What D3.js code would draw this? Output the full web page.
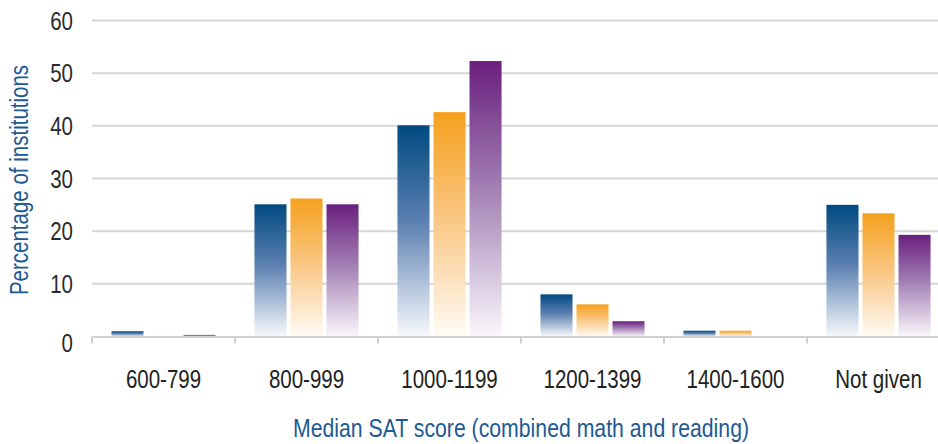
<!DOCTYPE html>
<html>
<head>
<meta charset="utf-8">
<script src="https://cdn.jsdelivr.net/npm/d3@7"></script>
<style>
  body { margin: 0; background: #fff; }
  text { font-family: "Liberation Sans", Arial, sans-serif; }
</style>
</head>
<body>
<div id="chart"></div>
<script>
// categories and series
var categories = ["600-799", "800-999", "1000-1199", "1200-1399", "1400-1600", "Not given"];
var series = ["s1", "s2", "s3"];
var blueValues   = [1.0, 25.1, 40.1, 8.0, 1.1, 25.0];
var orangeValues = [0.1, 26.2, 42.6, 6.1, 1.1, 23.4];
var purpleValues = [0.3, 25.1, 52.3, 2.9, 0.0, 19.3];
var yTicks = [0, 10, 20, 30, 40, 50, 60];

// gradient colors (top, middle, bottom)
var gradients = {
    s1: ["#004a80", "#5a7fb0", "#f7f9fc"],
    s2: ["#f5a11c", "#f9c47e", "#fffbf5"],
    s3: ["#6a1f7e", "#a07db2", "#faf7fb"]
};

// narrow look: squeeze the regular font horizontally
var squeeze = "scale(0.82,1)";
var squeezeTitle = "scale(0.85,1)";

var valuesBySeries = {s1: blueValues, s2: orangeValues, s3: purpleValues};

var data = categories.map(function (c, i) {
    return {
        cat: c,
        vals: series.map(function (s) { return {key: s, value: valuesBySeries[s][i]}; })
    };
});

var svg = d3.select("#chart").append("svg")
    .attr("width", 938)
    .attr("height", 444);

// gradients
var defs = svg.append("defs");
series.forEach(function (s) {
    var g = defs.append("linearGradient")
        .attr("id", "grad_" + s)
        .attr("x1", 0).attr("y1", 0).attr("x2", 0).attr("y2", 1);
    g.append("stop").attr("offset", "0%").attr("stop-color", gradients[s][0]);
    g.append("stop").attr("offset", "45%").attr("stop-color", gradients[s][1]);
    g.append("stop").attr("offset", "100%").attr("stop-color", gradients[s][2]);
});

var x0 = d3.scaleBand()
    .domain(categories)
    .range([92, 950]);

var x1 = d3.scaleBand()
    .domain(series)
    .range([0, x0.bandwidth()])
    .paddingInner(0.11)
    .paddingOuter(0.54);

var y = d3.scaleLinear()
    .domain([0, 60])
    .range([336.5, 20.5]);

// gridlines
svg.append("g")
    .selectAll("line")
    .data(yTicks.filter(function (d) { return d > 0; }))
    .enter()
    .append("line")
    .attr("x1", 92)
    .attr("x2", 938)
    .attr("y1", function (d) { return y(d); })
    .attr("y2", function (d) { return y(d); })
    .attr("stroke", "#d6d6d6")
    .attr("stroke-width", 2);

// y tick labels
svg.append("g")
    .selectAll("g")
    .data(yTicks)
    .enter()
    .append("g")
    .attr("transform", function (d) { return "translate(73," + y(d) + ")"; })
    .append("text")
    .attr("transform", squeeze)
    .attr("dy", function (d) { return d === 0 ? "0.62em" : "0.36em"; })
    .attr("text-anchor", "end")
    .attr("font-size", 25)
    .attr("fill", "#2b2b2b")
    .text(function (d) { return d; });

// bars
var groups = svg.append("g")
    .selectAll("g")
    .data(data)
    .enter()
    .append("g")
    .attr("transform", function (d) { return "translate(" + x0(d.cat) + ",0)"; });

groups.selectAll("rect")
    .data(function (d) { return d.vals; })
    .enter()
    .append("rect")
    .attr("x", function (d) { return x1(d.key); })
    .attr("y", function (d) { return y(d.value); })
    .attr("width", x1.bandwidth())
    .attr("height", function (d) { return y(0) - y(d.value); })
    .attr("fill", function (d) { return "url(#grad_" + d.key + ")"; });

// x axis line and ticks
var xAxis = svg.append("g")
    .attr("transform", "translate(0," + y(0) + ")")
    .call(d3.axisBottom(x0).tickSize(0).tickPadding(34));

xAxis.select(".domain").attr("stroke", "#d0d0d0").attr("stroke-width", 2);
xAxis.selectAll(".tick text")
    .attr("transform", squeeze)
    .attr("font-size", 25)
    .attr("fill", "#222")
    .style("font-family", "'Liberation Sans', Arial, sans-serif");

var boundaries = categories.map(function (c) { return x0(c); }).concat([x0.range()[1]]);
svg.append("g")
    .selectAll("line")
    .data(boundaries)
    .enter()
    .append("line")
    .attr("x1", function (d) { return d; })
    .attr("x2", function (d) { return d; })
    .attr("y1", y(0))
    .attr("y2", y(0) + 7)
    .attr("stroke", "#d0d0d0")
    .attr("stroke-width", 2);

// axis titles
svg.append("text")
    .attr("transform", "translate(521,437) " + squeezeTitle)
    .attr("text-anchor", "middle")
    .attr("font-size", 25)
    .attr("fill", "#1d5a94")
    .text("Median SAT score (combined math and reading)");

svg.append("text")
    .attr("transform", "translate(28,180) rotate(-90) " + squeeze)
    .attr("text-anchor", "middle")
    .attr("font-size", 25)
    .attr("fill", "#1d5a94")
    .text("Percentage of institutions");
</script>
</body>
</html>
